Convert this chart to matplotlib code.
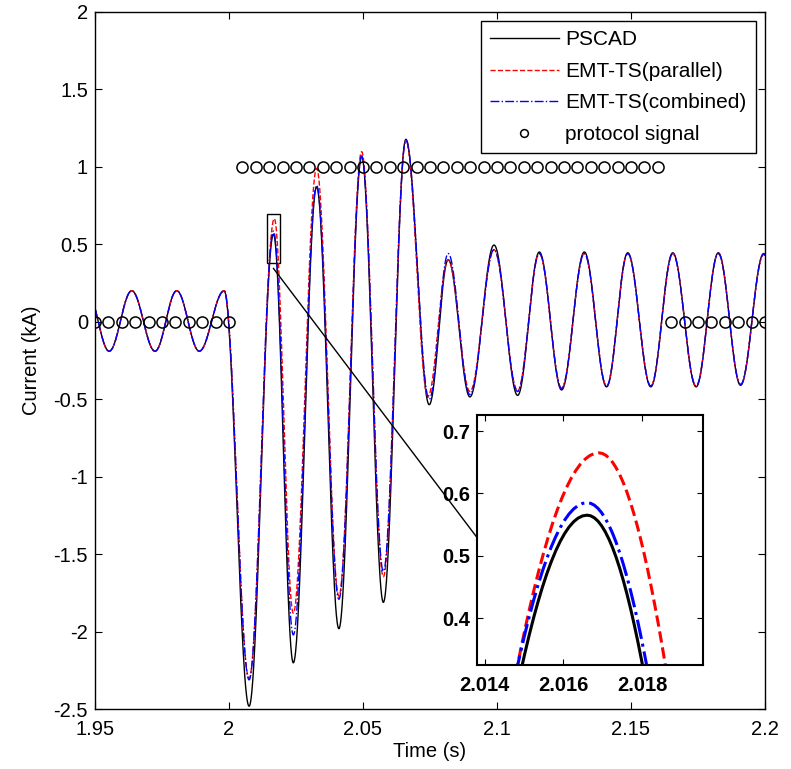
"""Fault current: PSCAD vs EMT-TS (parallel / combined) with protocol signal."""

import matplotlib

matplotlib.use("Agg")
import matplotlib.pyplot as plt
import numpy as np
from matplotlib.patches import ConnectionPatch, Rectangle
from matplotlib.ticker import FormatStrFormatter

plt.rcParams["font.family"] = ["Liberation Sans", "DejaVu Sans"]

# waveform extrema (time [s], current [kA])
pscad_t = [1.9470, 1.9553, 1.9637, 1.9724, 1.9805, 1.9889, 1.9982, 2.0075, 2.0166,
           2.0240, 2.0327, 2.0410, 2.0495, 2.0576, 2.0660, 2.0747, 2.0818, 2.0899,
           2.0989, 2.1077, 2.1158, 2.1241, 2.1326, 2.1409, 2.1488, 2.1574, 2.1656,
           2.1743, 2.1826, 2.1909, 2.1995, 2.2080]
pscad_v = [0.20, -0.19, 0.20, -0.19, 0.20, -0.19, 0.20, -2.48, 0.565,
           -2.20, 0.87, -1.98, 1.065, -1.81, 1.177, -0.535, 0.40, -0.485,
           0.495, -0.475, 0.45, -0.44, 0.45, -0.42, 0.445, -0.42, 0.445,
           -0.42, 0.445, -0.41, 0.44, -0.41]

parallel_t = [1.9470, 1.9553, 1.9637, 1.9724, 1.9805, 1.9889, 1.9982, 2.0075, 2.0169,
              2.0240, 2.0327, 2.0410, 2.0495, 2.0576, 2.0660, 2.0742, 2.0818, 2.0899,
              2.0989, 2.1077, 2.1158, 2.1241, 2.1326, 2.1409, 2.1488, 2.1574, 2.1656,
              2.1743, 2.1826, 2.1909, 2.1995, 2.2080]
parallel_v = [0.20, -0.19, 0.20, -0.19, 0.20, -0.19, 0.20, -2.30, 0.665,
              -1.88, 0.99, -1.77, 1.097, -1.645, 1.17, -0.48, 0.40, -0.45,
              0.465, -0.445, 0.44, -0.43, 0.44, -0.415, 0.44, -0.415, 0.44,
              -0.415, 0.44, -0.405, 0.435, -0.40]

combined_t = [1.9470, 1.9553, 1.9637, 1.9724, 1.9805, 1.9889, 1.9982, 2.0075, 2.0166,
              2.0240, 2.0327, 2.0410, 2.0495, 2.0576, 2.0660, 2.0747, 2.0818, 2.0899,
              2.0989, 2.1077, 2.1158, 2.1241, 2.1326, 2.1409, 2.1488, 2.1574, 2.1656,
              2.1743, 2.1826, 2.1909, 2.1995, 2.2080]
combined_v = [0.20, -0.19, 0.20, -0.19, 0.20, -0.19, 0.20, -2.31, 0.585,
              -2.02, 0.88, -1.79, 1.07, -1.61, 1.17, -0.50, 0.44, -0.47,
              0.465, -0.45, 0.44, -0.43, 0.44, -0.415, 0.44, -0.415, 0.44,
              -0.415, 0.44, -0.405, 0.435, -0.40]

# protocol signal, sampled every 5 ms from 1.95 s to 2.2 s
protocol_t = np.round(np.linspace(1.95, 2.2, 51), 3)
protocol_v = [0] * 11 + [1] * 32 + [0] * 8

zoom_box = (2.0141, 0.377, 2.0190, 0.693)  # x0, y0, x1, y1

FS = 14.5


def waveform(times, values, n=80):
    """Half-cosine segments joining successive extrema."""
    ts, vs = [], []
    for (t0, v0), (t1, v1) in zip(zip(times[:-1], values[:-1]), zip(times[1:], values[1:])):
        s = np.linspace(0.0, 1.0, n, endpoint=False)
        ts.append(t0 + s * (t1 - t0))
        vs.append((v0 + v1) / 2 + (v0 - v1) / 2 * np.cos(np.pi * s))
    ts.append([times[-1]])
    vs.append([values[-1]])
    return np.concatenate(ts), np.concatenate(vs)


series = [
    ("PSCAD", pscad_t, pscad_v, dict(color="black", ls="-")),
    ("EMT-TS(parallel)", parallel_t, parallel_v, dict(color="#ff0000", ls="--")),
    ("EMT-TS(combined)", combined_t, combined_v, dict(color="#0000ff", ls="-.")),
]

fig = plt.figure(figsize=(7.91, 7.69), dpi=100)
ax = fig.add_axes([0.1201, 0.0776, 0.847, 0.9072])

curves = []
for label, t, v, style in series:
    x, y = waveform(t, v)
    curves.append((x, y, style))
    ax.plot(x, y, lw=1.0, label=label, **style)
ax.plot(protocol_t, protocol_v, "o", mfc="none", mec="black", ms=8, mew=1.1,
        ls="none", label="protocol signal")

ax.set_xlim(1.95, 2.2)
ax.set_ylim(-2.5, 2)
ax.set_xticks([1.95, 2.0, 2.05, 2.1, 2.15, 2.2])
ax.set_yticks(np.arange(-2.5, 2.01, 0.5))
ax.xaxis.set_major_formatter(FormatStrFormatter("%g"))
ax.yaxis.set_major_formatter(FormatStrFormatter("%g"))
ax.tick_params(direction="in", top=True, right=True, length=5, width=0.8,
               labelsize=FS, pad=5)
ax.tick_params(axis="x", pad=8)
for spine in ax.spines.values():
    spine.set_linewidth(1.0)
ax.set_xlabel("Time (s)", fontsize=FS, labelpad=2)
ax.set_ylabel("Current (kA)", fontsize=FS, labelpad=9)

leg = ax.legend(loc="upper right", fontsize=15, fancybox=False, edgecolor="black",
                framealpha=1, handlelength=3.3, handletextpad=0.3, labelspacing=0.6,
                borderpad=0.45, borderaxespad=0.45, markerscale=0.7)
leg.get_frame().set_linewidth(1.0)

x0, y0, x1, y1 = zoom_box
ax.add_patch(Rectangle((x0, y0), x1 - x0, y1 - y0, fill=False, ec="black", lw=1.0))

ins = fig.add_axes([477 / 791, 1 - 665 / 769, 226 / 791, 250 / 769])
for x, y, style in curves:
    ins.plot(x, y, lw=2.2, **style)
ins.set_xlim(2.0138, 2.01955)
ins.set_ylim(0.3246, 0.7257)
ins.set_xticks([2.014, 2.016, 2.018])
ins.set_yticks([0.4, 0.5, 0.6, 0.7])
ins.xaxis.set_major_formatter(FormatStrFormatter("%.3f"))
ins.yaxis.set_major_formatter(FormatStrFormatter("%.1f"))
ins.tick_params(direction="in", top=True, right=True, length=4, width=0.8,
                labelsize=FS, pad=5)
ins.tick_params(axis="x", pad=8)
for lab in ins.get_xticklabels() + ins.get_yticklabels():
    lab.set_fontweight("bold")
for spine in ins.spines.values():
    spine.set_linewidth(1.5)

link = ConnectionPatch(xyA=((x0 + x1) / 2, 0.345), coordsA=ax.transData,
                       xyB=(0.0, 0.51), coordsB=ins.transAxes, color="black", lw=1.0)
fig.add_artist(link)

fig.savefig("out.png", dpi=100)
